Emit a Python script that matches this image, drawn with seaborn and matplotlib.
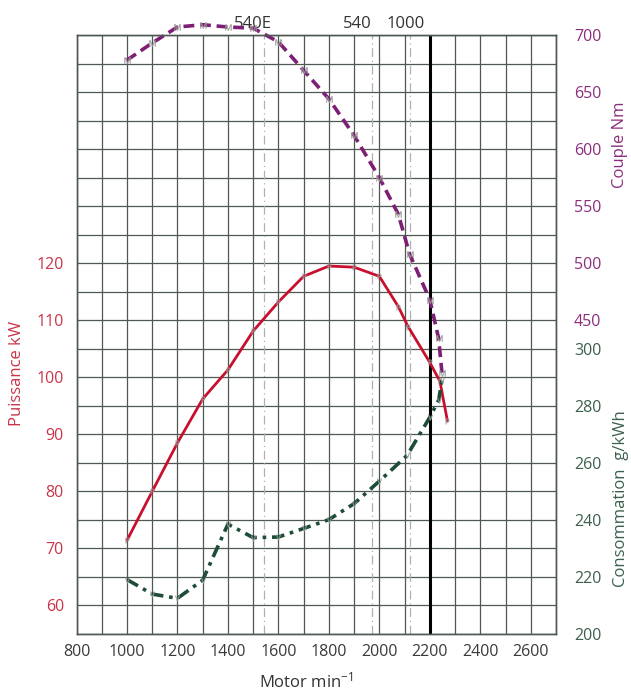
import numpy as np
import matplotlib
matplotlib.use("Agg")
import matplotlib.pyplot as plt
import matplotlib.transforms as mtransforms
import seaborn as sns

# engine speed (rpm) and curves
rpm_power = [1000, 1100, 1200, 1300, 1400, 1500, 1600, 1700, 1800, 1900, 2000, 2075, 2115, 2200, 2240, 2270]
power_kw = [71.4, 80.0, 88.5, 96.2, 101.3, 108.1, 113.2, 117.7, 119.5, 119.3, 117.7, 112.4, 108.8, 102.6, 99.3, 92.3]

rpm_torque = [1000, 1100, 1200, 1300, 1400, 1500, 1600, 1700, 1800, 1900, 2000, 2075, 2120, 2200, 2235, 2248]
torque_nm = [678, 693, 707, 709, 707, 706, 694, 669, 644, 612, 575, 543, 508, 468, 434, 404]

rpm_cons = [1000, 1100, 1200, 1300, 1400, 1500, 1600, 1700, 1800, 1900, 2000, 2110, 2200, 2235, 2248]
cons_gkwh = [219.1, 214.0, 212.5, 218.9, 238.5, 233.8, 234.0, 237.0, 240.1, 245.7, 253.6, 262.6, 276.0, 282.0, 289.0]

# PTO reference speeds
pto_rpm = [1544, 1969, 2121]
pto_labels = ['540E', '540', '1000']
pto_label_x = [1500, 1912, 2106]
rated_rpm = 2200

x_ticks = list(range(800, 2601, 200))
kw_ticks = list(range(60, 121, 10))
nm_ticks = list(range(450, 701, 50))
cons_ticks = list(range(200, 301, 20))

red = '#c8102e'
purple = '#7d1f74'
green = '#1e4d37'
grid_c = '#4f5853'
mark_c = '#9a9a9a'

sns.set_style('white')
plt.rcParams['font.family'] = ['Open Sans', 'DejaVu Sans']
plt.rcParams['mathtext.fontset'] = 'custom'
plt.rcParams['mathtext.rm'] = 'Open Sans'
plt.rcParams['mathtext.it'] = 'Open Sans'

fig = plt.figure(figsize=(6.31, 6.91), dpi=100)
ax = fig.add_axes([76.5 / 631, 1 - 634 / 691, 479.5 / 631, 599 / 691])
ax2 = ax.twinx()
ax3 = ax.twinx()

# grid
ax.set_xlim(800, 2700)
ax.set_ylim(55, 160)
ax.set_xticks(x_ticks)
ax.set_xticks(list(range(800, 2701, 100)), minor=True)
ax.set_yticks(kw_ticks)
ax.set_yticks(list(range(55, 161, 5)), minor=True)
ax.grid(True, which='both', color=grid_c, lw=0.9)
ax.set_axisbelow(True)
ax.tick_params(which='both', length=0)
ax.tick_params(axis='x', labelsize=11.5, labelcolor='#3a3a3a', pad=7)
ax.tick_params(axis='y', labelsize=11.5, labelcolor='#c83448', pad=9)

for a in (ax, ax2, ax3):
    for s in a.spines.values():
        s.set_color(grid_c)
        s.set_linewidth(0.9)

ax.axvline(rated_rpm, color='black', lw=2.2, zorder=1.5)
for r in pto_rpm:
    ax.axvline(r, color='#b0b0b0', lw=0.9, linestyle=(0, (7, 3, 1, 3)), zorder=1.2)
trans = mtransforms.blended_transform_factory(ax.transData, ax.transAxes)
for xl, t in zip(pto_label_x, pto_labels):
    ax.text(xl, 1.005, t, transform=trans, ha='center', va='bottom',
            fontsize=12, color='#333333')

# power
sns.lineplot(x=rpm_power, y=power_kw, ax=ax, color=red, lw=2, marker='$P$',
             markersize=4, markerfacecolor=mark_c, markeredgecolor=mark_c,
             markeredgewidth=0.2, zorder=3)

# torque
ax2.set_ylim(175, 700)
ax2.set_yticks(nm_ticks)
ax2.tick_params(length=0, labelsize=11.5, labelcolor='#8c2e7d', pad=13)
sns.lineplot(x=rpm_torque, y=torque_nm, ax=ax2, color=purple, lw=2.6,
             linestyle=(0, (3, 1.6)), marker='$M$', markersize=4.5,
             markerfacecolor=mark_c, markeredgecolor=mark_c,
             markeredgewidth=0.2, clip_on=False)

# consumption
ax3.set_ylim(200, 410)
ax3.set_yticks(cons_ticks)
ax3.tick_params(length=0, labelsize=11.5, labelcolor='#3c604c', pad=13)
sns.lineplot(x=rpm_cons, y=cons_gkwh, ax=ax3, color=green, lw=2.6,
             linestyle=(0, (3.5, 1.6, 1, 1.6)), marker='$V$', markersize=4,
             markerfacecolor=mark_c, markeredgecolor=mark_c,
             markeredgewidth=0.2)

for a in (ax, ax2, ax3):
    a.set_xlabel('')
    a.set_ylabel('')

fig.text(306 / 631, 1 - 681 / 691, 'Motor min$^{-1}$', ha='center', va='center',
         fontsize=12, color='#333333')
fig.text(17 / 631, 1 - 373 / 691, 'Puissance kW', rotation=90, ha='center',
         va='center', fontsize=12, color='#c83448')
fig.text(620 / 631, 1 - 145 / 691, 'Couple Nm', rotation=90, ha='center',
         va='center', fontsize=12, color='#8c2e7d')
fig.text(621 / 631, 1 - 499 / 691, 'Consommation  g/kWh', rotation=90, ha='center',
         va='center', fontsize=12, color='#3c604c')

fig.savefig('out.png', dpi=100)
